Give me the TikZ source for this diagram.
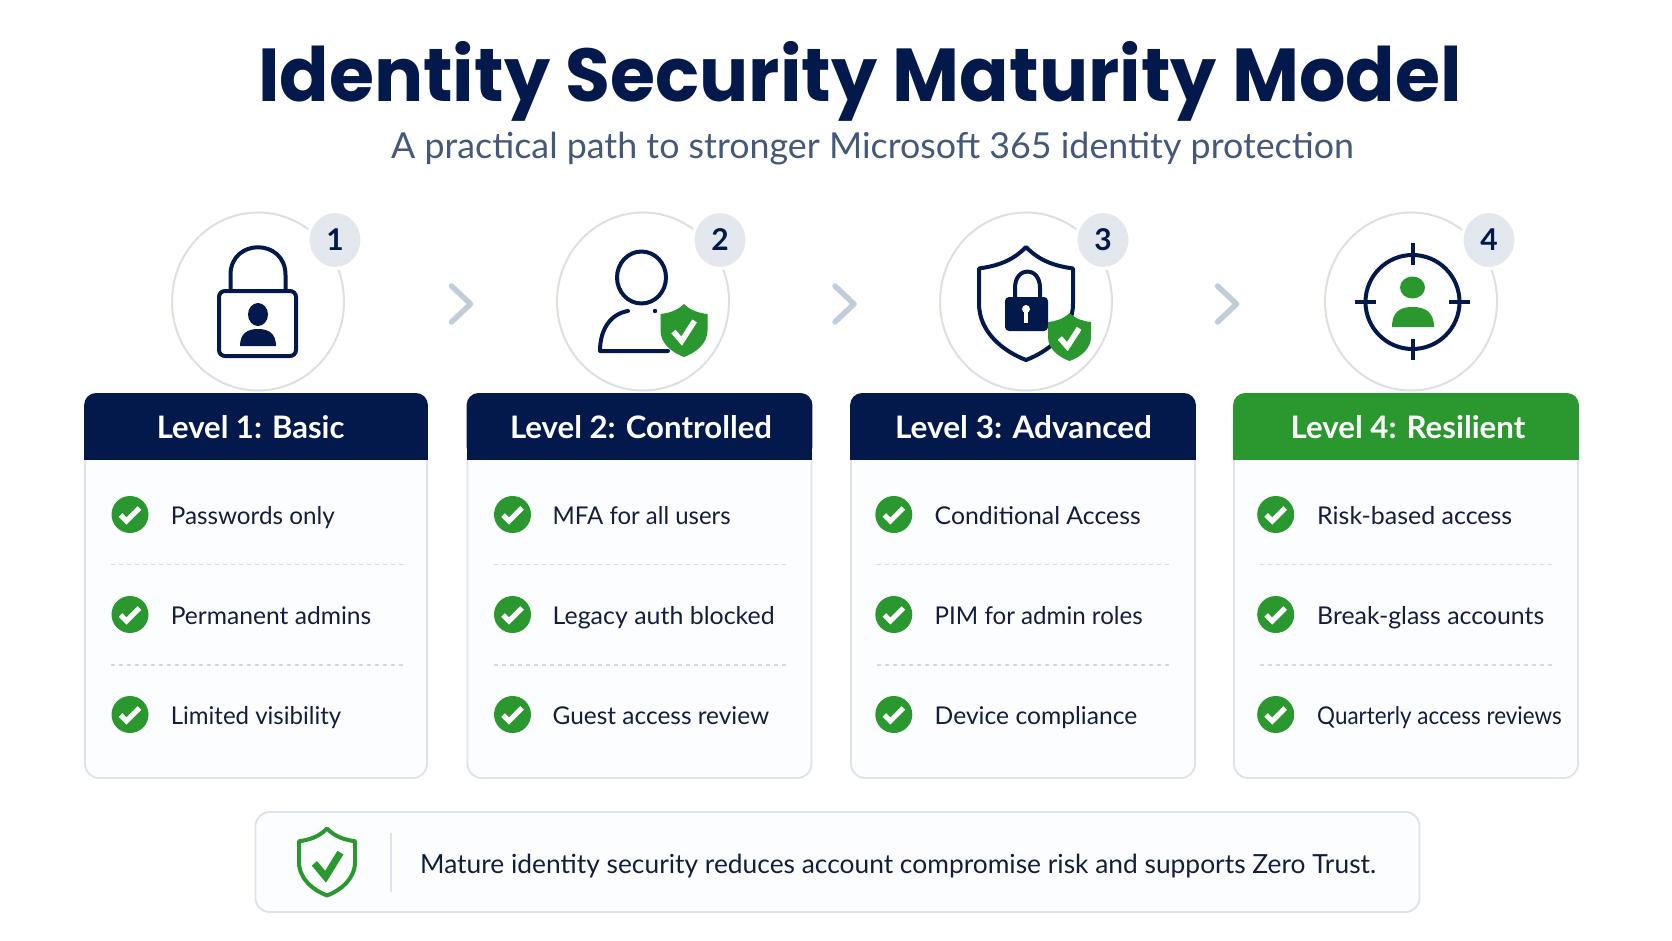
\documentclass[tikz,border=0pt]{standalone}
\usepackage{fontspec}
\setmainfont{Lato}
\newfontfamily\titlefont{Poppins}
\usepackage{graphicx}
\usetikzlibrary{shapes.geometric}
\definecolor{navy}{HTML}{03194B}
\definecolor{gr}{HTML}{2B982F}
\definecolor{subc}{HTML}{44587A}
\definecolor{chev}{HTML}{C3CCDA}
\definecolor{edge}{HTML}{DDE2EC}
\definecolor{ring}{HTML}{DCE0E6}
\definecolor{badge}{HTML}{E3E7EE}
\definecolor{cardbg}{HTML}{FCFDFE}
\definecolor{inktext}{HTML}{141E3C}
\definecolor{dash}{HTML}{D5D9E1}
\newsavebox{\fitbox}
\newcommand{\fitw}[2]{\sbox{\fitbox}{#2}\pgfmathsetmacro{\fitr}{#1/\wd\fitbox}\scalebox{\fitr}[1]{\usebox{\fitbox}}}
\tikzset{
  itemtext/.style={anchor=base west,inner sep=0pt,text=inktext,font=\fontsize{24.5}{30}\selectfont},
  headtext/.style={anchor=base,inner sep=0pt,text=white,font=\fontsize{31}{36}\selectfont\bfseries},
  ringc/.style={ellipse,draw=ring,line width=2pt,minimum width=172pt,minimum height=178pt,inner sep=0pt,fill=white},
  badgec/.style={ellipse,draw=white,line width=3pt,fill=badge,minimum width=54pt,minimum height=57pt,inner sep=0pt,text=navy,font=\fontsize{30}{36}\selectfont\bfseries},
  checkc/.style={circle,fill=gr,minimum size=37pt,inner sep=0pt},
  tickw/.style={draw=white,line width=5pt,line join=miter},
  icon/.style={draw=navy,line width=4pt,line join=round,line cap=round},
  chevron/.style={draw=chev,line width=5.5pt,line cap=round,line join=round},
}
% shield in unit coordinates: half width 1, height 1
\newcommand{\shieldpath}{(0,0) .. controls (.3,.13) and (.65,.17) .. (1,.19) -- (1,.5) .. controls (1,.75) and (.5,.92) .. (0,1) .. controls (-.5,.92) and (-1,.75) .. (-1,.5) -- (-1,.19) .. controls (-.65,.17) and (-.3,.13) .. (0,0) -- cycle}
% card: name, left, right, header colour, title, 3 items, text x; \headx and \chkx set before
\newcommand{\levelcard}[9]{%
  \path[fill=cardbg,draw=edge,line width=1.8pt,rounded corners=14pt] (#2,440) -- (#2,778) -- (#3,778) -- (#3,440) -- cycle;
  \path[fill=#4,rounded corners=12pt] ({#2-.9},459) -- ({#2-.9},393) -- ({#3+.9},393) -- ({#3+.9},459) -- cycle;
  \path[fill=#4] ({#2-.9},440) rectangle ({#3+.9},459.5);
  \node[headtext] (#1head) at (\headx,438) {#5};
  \foreach \yy/\itm/\nn in {514.5/#6/1,614.5/#7/2,714.5/#8/3}{
    \node[checkc] (#1chk\nn) at (\chkx,\yy) {};
    \draw[tickw] ({\chkx-9.5},{\yy+0.5}) -- ({\chkx-3.5},{\yy+6.5}) -- ({\chkx+9.5},{\yy-6.5});
    \node[itemtext] (#1txt\nn) at (#9,{\yy+9.5}) {\itm};
  }
  \draw[draw=dash,line width=1.3pt,dash pattern=on 4pt off 4pt] ({#2+26},564.5) -- ({#3-24},564.5);
  \draw[draw=dash,line width=1.3pt,dash pattern=on 4pt off 4pt] ({#2+26},665) -- ({#3-24},665);
}
\newcommand{\ringbadge}[4]{% name, cx, badge cx, number
  \node[ringc] (#1ring) at (#2,301.5) {};
  \node[badgec] (#1badge) at (#3,240) {#4};
}
\newcommand{\greenshield}[4]{% cx, top, halfw, h
  \begin{scope}[shift={(#1,#2)},x=#3pt,y=-#4pt]
    \fill[gr] \shieldpath;
    \draw[draw=white,line width=5.5pt,line join=miter] (-.45,.52) -- (-.1,.7) -- (.45,.32);
  \end{scope}
}
\begin{document}
\begin{tikzpicture}[x=1pt,y=-1pt]
\useasboundingbox (0,0) rectangle (1672,941);
\fill[white!99!cardbg] (0,0) rectangle (1672,941);
\node[anchor=base,inner sep=0pt,text=navy,font=\fontsize{75}{90}\selectfont\titlefont\bfseries] (title) at (860,102) {\fitw{1204}{Identity Security Maturity Model}};
\node[anchor=base,inner sep=0pt,text=subc,font=\fontsize{35.8}{42}\selectfont] (subtitle) at (872.5,159) {A practical path to stronger Microsoft 365 identity protection};

\ringbadge{a}{258}{335}{1}
\ringbadge{b}{643}{720}{2}
\ringbadge{c}{1026}{1103}{3}
\ringbadge{d}{1411}{1489}{4}

\def\headx{250.6}\def\chkx{130}
\levelcard{a}{85}{427}{navy}{\fitw{187.7}{Level 1: Basic}}{\fitw{164}{Passwords only}}{\fitw{200.5}{Permanent admins}}{\fitw{170.5}{Limited visibility}}{170.6}
\def\headx{641}\def\chkx{512.5}
\levelcard{b}{467.5}{811.5}{navy}{\fitw{262}{Level 2: Controlled}}{\fitw{178}{MFA for all users}}{\fitw{222}{Legacy auth blocked}}{\fitw{216.5}{Guest access review}}{552.5}
\def\headx{1023.5}\def\chkx{893.8}
\levelcard{c}{851}{1195}{navy}{\fitw{257}{Level 3: Advanced}}{\fitw{206}{Conditional Access}}{\fitw{208}{PIM for admin roles}}{\fitw{202.6}{Device compliance}}{934.5}
\def\headx{1408}\def\chkx{1275.7}
\levelcard{d}{1234}{1578}{gr}{\fitw{234.6}{Level 4: Resilient}}{\fitw{195}{Risk-based access}}{\fitw{227}{Break-glass accounts}}{\fitw{244.5}{Quarterly access reviews}}{1317}

% chevrons
\draw[chevron] (451.5,286) -- (470.5,304) -- (451.5,322);
\draw[chevron] (835,286) -- (854,304) -- (835,322);
\draw[chevron] (1217.5,286) -- (1236.5,304) -- (1217.5,322);

% Level 1 icon
\draw[icon] (230.5,290) -- (230.5,275) .. controls (230.5,238) and (285.5,238) .. (285.5,275) -- (285.5,290);
\draw[icon,fill=white,rounded corners=6pt] (219,291) rectangle (296,356);
\fill[navy] (258,314.5) ellipse (10pt and 11.5pt);
\fill[navy] (240,346) .. controls (240,333) and (248,329) .. (258,329) .. controls (268,329) and (276,333) .. (276,346) -- cycle;

% Level 2 icon
\draw[icon] (641.5,277.5) ellipse (24.5pt and 26pt);
\draw[icon] (628,311) .. controls (610,314) and (600,330) .. (600,351) -- (668,351);
\fill[navy] (655,311) circle (2.2pt);
\greenshield{684}{304}{23.5}{53}

% Level 3 icon
\begin{scope}[shift={(1026,247)},x=47pt,y=-113pt]
  \draw[icon] \shieldpath;
\end{scope}
\draw[icon] (1015,300) -- (1015,288) .. controls (1015,266) and (1040,266) .. (1040,288) -- (1040,300);
\fill[navy,rounded corners=4pt] (1005,297) rectangle (1048,331);
\fill[white] (1026,309) circle (4pt);
\fill[white] (1024.2,310) rectangle (1027.8,323);
\greenshield{1069.5}{313}{21.5}{48}

% Level 4 icon
\draw[icon] (1412.5,302) circle (47pt);
\draw[icon,line cap=butt] (1412.5,243) -- (1412.5,265);
\draw[icon,line cap=butt] (1412.5,339) -- (1412.5,360);
\draw[icon,line cap=butt] (1355,302) -- (1376,302);
\draw[icon,line cap=butt] (1449,302) -- (1470,302);
\fill[gr] (1412.5,287.5) ellipse (12.5pt and 11pt);
\fill[gr] (1392,327) .. controls (1392,312) and (1400,307) .. (1412.5,307) .. controls (1425,307) and (1434,312) .. (1434,327) -- cycle;

% banner
\node[draw=edge,line width=1.8pt,fill=cardbg,rounded corners=14pt,minimum width=1164pt,minimum height=100pt,inner sep=0pt] (banner) at (837.5,862) {};
\begin{scope}[shift={(327,828.5)},x=28pt,y=-67pt]
  \draw[draw=gr,line width=4pt,line join=round] \shieldpath;
  \draw[draw=gr,line width=7pt,line join=miter] (-.45,.52) -- (-.05,.72) -- (.48,.36);
\end{scope}
\draw[draw=edge,line width=1.5pt] (391,833) -- (391,892);
\node[anchor=base west,inner sep=0pt,text=inktext,font=\fontsize{26.35}{32}\selectfont] (note) at (420,873) {Mature identity security reduces account compromise risk and supports Zero Trust.};
\end{tikzpicture}
\end{document}
